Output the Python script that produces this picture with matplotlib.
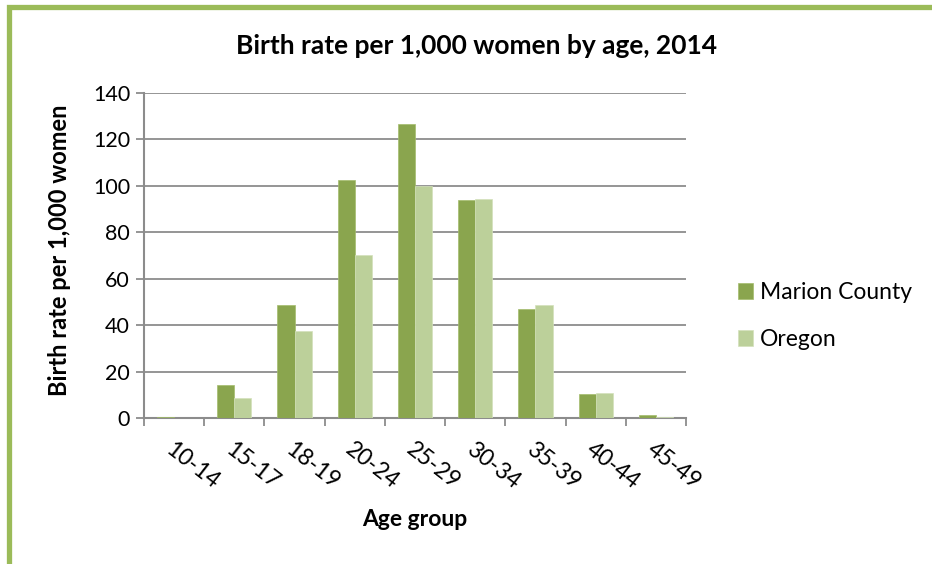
import matplotlib
matplotlib.use('Agg')
import matplotlib.pyplot as plt
import matplotlib.patches as mpatches
import numpy as np

plt.rcParams['font.family'] = ['Lato', 'DejaVu Sans']

# values
age_groups = ['10-14', '15-17', '18-19', '20-24', '25-29', '30-34', '35-39', '40-44', '45-49']
marion = [0.6, 14.2, 48.7, 102.4, 126.5, 93.9, 46.9, 10.4, 1.1]
oregon = [0.1, 8.6, 37.5, 70.1, 99.8, 94.2, 48.7, 10.8, 0.5]
series_names = ['Marion County', 'Oregon']
yticks = [0, 20, 40, 60, 80, 100, 120, 140]

dark_green = '#8aa54e'
light_green = '#bcd09a'
border_green = '#9bbb59'
grid_grey = '#8c8c8c'

W, H = 932, 564
fig = plt.figure(figsize=(W / 100, H / 100), dpi=100)

# green frame on the left and top (cut off on right/bottom)
fig.add_artist(mpatches.Rectangle((8.5 / W, -0.1), 1.2, 1.1 - 6.5 / H, transform=fig.transFigure,
                                  fill=False, edgecolor=border_green, linewidth=3.8))

ax = fig.add_axes([144 / W, 1 - 418 / H, (686 - 144) / W, (418 - 93) / H])

x = np.arange(len(age_groups))
bw = 0.285
b1 = ax.bar(x + 0.5 - bw / 2, marion, width=bw, color=dark_green, edgecolor='#a3bc6c', linewidth=0.5,
            label=series_names[0], zorder=3)
b2 = ax.bar(x + 0.5 + bw / 2, oregon, width=bw, color=light_green, edgecolor='#d3e1bb', linewidth=0.5,
            label=series_names[1], zorder=3)

ax.set_xlim(0, len(age_groups))
ax.set_ylim(0, 140)
ax.set_yticks(yticks)
ax.set_yticklabels([str(v) for v in yticks], fontsize=15.5)
ax.yaxis.grid(True, color=grid_grey, linewidth=1.3, zorder=0)
ax.set_axisbelow(True)

ax.set_xticks(np.arange(len(age_groups) + 1))
ax.set_xticklabels([])
ax.set_xticks(x + 0.5, minor=True)
ax.set_xticklabels(age_groups, minor=True, rotation=-38, rotation_mode='anchor',
                   ha='left', va='top', fontsize=16.5)
ax.tick_params(axis='x', which='minor', length=0, pad=15)
ax.tick_params(axis='x', which='major', length=6, width=1.3, color=grid_grey)
ax.tick_params(axis='y', length=6, width=1.3, color=grid_grey, pad=4)

for s in ['top', 'right']:
    ax.spines[s].set_visible(False)
for s in ['left', 'bottom']:
    ax.spines[s].set_color(grid_grey)
    ax.spines[s].set_linewidth(1.5)

fig.text(476 / W, 1 - 46 / H, 'Birth rate per 1,000 women by age, 2014', fontsize=19,
         fontweight='bold', ha='center', va='center')
fig.text(60 / W, 1 - 250 / H, 'Birth rate per 1,000 women', fontsize=17, fontweight='bold',
         rotation=90, ha='center', va='center')
fig.text(415 / W, 1 - 520 / H, 'Age group', fontsize=16.5, fontweight='bold', ha='center', va='center')

leg = ax.legend(handles=[b1, b2], loc='center left', bbox_to_anchor=(717 / W, 1 - 316 / H),
                bbox_transform=fig.transFigure, frameon=False, fontsize=16.5,
                handlelength=0.66, handleheight=0.66, handletextpad=0.3, labelspacing=1.12)

fig.savefig('out.png', dpi=100)
